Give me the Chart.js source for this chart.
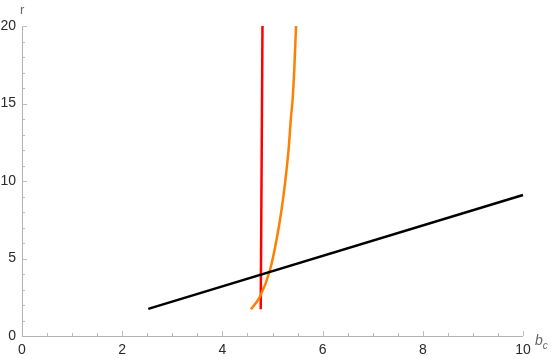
<!DOCTYPE html>
<html>
<head>
<meta charset="utf-8">
<script src="https://cdn.jsdelivr.net/npm/chart.js@4"></script>
<style>
html,body{margin:0;padding:0;background:#fff;}
#wrap{width:552px;height:359px;position:relative;}
</style>
</head>
<body>
<div id="wrap"><canvas id="c" width="552" height="359"></canvas></div>
<script>
// Data
const blackX = [2.52, 10.0];
const blackY = [1.75, 9.1];
const redX = [4.765, 4.80];
const redY = [1.72, 20.0];
const orangeX = [4.57, 4.75, 4.95, 5.08, 5.18, 5.25, 5.32, 5.37, 5.40, 5.435, 5.47];
const orangeY = [1.72, 2.54, 4.26, 6.19, 8.13, 9.85, 12.0, 14.15, 15.2, 17.2, 20.0];
const xTicks = [0, 2, 4, 6, 8, 10];
const yTicks = [0, 5, 10, 15, 20];
const xLabel = "b";
const xLabelSub = "c";
const yLabel = "r";

const pts = (xs, ys) => xs.map((x, i) => ({x: x, y: ys[i]}));

const axisColor = "#b3b3b3";
const labelColor = "#2a2a2a";

const axesPlugin = {
  id: "mmaAxes",
  beforeDatasetsDraw(chart) {
    const ctx = chart.ctx;
    const xs = chart.scales.x, ys = chart.scales.y;
    const x0 = xs.getPixelForValue(0), x1 = xs.getPixelForValue(10);
    const y0 = ys.getPixelForValue(0), y1 = ys.getPixelForValue(20);
    ctx.save();
    ctx.strokeStyle = axisColor;
    ctx.lineWidth = 1;
    ctx.beginPath();
    ctx.moveTo(x0, y0 + 0.5); ctx.lineTo(x1, y0 + 0.5);
    ctx.moveTo(x0 + 0.5, y0); ctx.lineTo(x0 + 0.5, y1);
    ctx.stroke();
    for (let i = 1; i <= 20; i++) {
      const v = i * 0.5;
      const px = Math.round(xs.getPixelForValue(v)) + 0.5;
      const major = Math.abs(v / 2 - Math.round(v / 2)) < 1e-9;
      ctx.strokeStyle = major ? "#bdbdbd" : "#b8b8b8";
      ctx.beginPath();
      ctx.moveTo(px, y0);
      ctx.lineTo(px, y0 - (major ? 5 : 3));
      ctx.stroke();
    }
    for (let i = 1; i <= 20; i++) {
      const py = Math.round(ys.getPixelForValue(i)) + 0.5;
      const major = i % 5 === 0;
      ctx.strokeStyle = major ? "#bdbdbd" : "#b8b8b8";
      ctx.beginPath();
      ctx.moveTo(x0, py);
      ctx.lineTo(x0 + (major ? 5 : 3), py);
      ctx.stroke();
    }
    ctx.restore();
  },
  afterDraw(chart) {
    const ctx = chart.ctx;
    const xs = chart.scales.x, ys = chart.scales.y;
    ctx.save();
    ctx.fillStyle = "#666666";
    ctx.textBaseline = "alphabetic";
    ctx.font = "13px 'Liberation Sans', Arial, sans-serif";
    ctx.textAlign = "left";
    ctx.fillText(yLabel, xs.getPixelForValue(0) - 2, 14);
    const bx = xs.getPixelForValue(10) + 12;
    const by = ys.getPixelForValue(0) + 9;
    ctx.font = "italic 14px 'Liberation Sans', Arial, sans-serif";
    ctx.fillText(xLabel, bx, by);
    const w = ctx.measureText(xLabel).width;
    ctx.font = "italic 10px 'Liberation Sans', Arial, sans-serif";
    ctx.fillText(xLabelSub, bx + w, by + 4);
    ctx.restore();
  }
};

new Chart(document.getElementById("c"), {
  type: "scatter",
  data: {
    datasets: [
      { data: pts(blackX, blackY), borderColor: "#000000", borderWidth: 2.5, showLine: true, pointRadius: 0, clip: 6 },
      { data: pts(orangeX, orangeY), borderColor: "#ff8000", borderWidth: 2.5, showLine: true, pointRadius: 0, cubicInterpolationMode: "monotone", clip: 6 },
      { data: pts(redX, redY), borderColor: "#ff0000", borderWidth: 2.5, showLine: true, pointRadius: 0, clip: 6 }
    ]
  },
  options: {
    responsive: false,
    animation: false,
    devicePixelRatio: 1,
    layout: { padding: { left: 0, right: 29, top: 26, bottom: 0 } },
    plugins: { legend: { display: false }, tooltip: { enabled: false } },
    scales: {
      x: {
        type: "linear", min: 0, max: 10,
        grid: { display: false, drawTicks: false },
        border: { display: false },
        afterFit(s) { s.height = 23; },
        afterBuildTicks(s) { s.ticks = xTicks.map(v => ({ value: v })); },
        ticks: { color: labelColor, padding: 6, maxRotation: 0, autoSkip: false,
                 font: { family: "'Liberation Sans', Arial, sans-serif", size: 14 } }
      },
      y: {
        type: "linear", min: 0, max: 20,
        grid: { display: false, drawTicks: false },
        border: { display: false },
        afterFit(s) { s.width = 22; },
        afterBuildTicks(s) { s.ticks = yTicks.map(v => ({ value: v })); },
        ticks: { color: labelColor, padding: 6, autoSkip: false,
                 font: { family: "'Liberation Sans', Arial, sans-serif", size: 14 } }
      }
    }
  },
  plugins: [axesPlugin]
});
</script>
</body>
</html>
